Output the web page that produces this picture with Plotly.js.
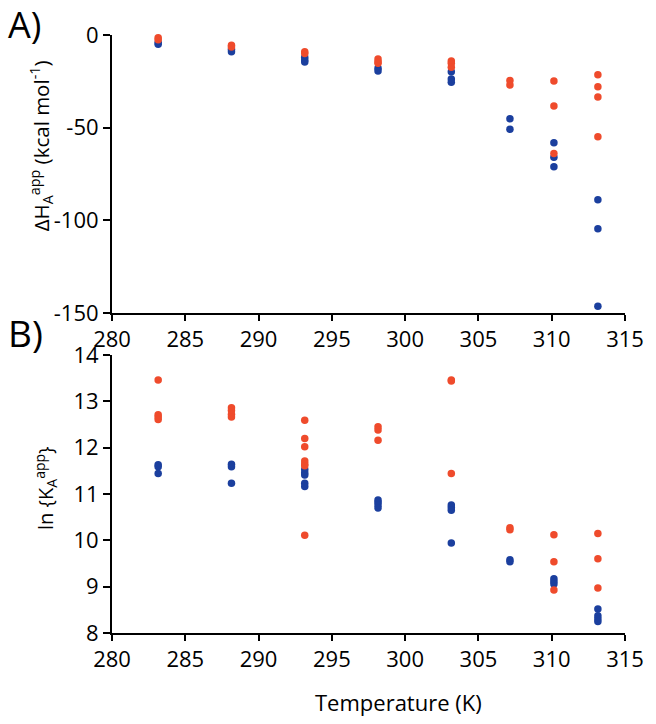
<!DOCTYPE html>
<html>
<head>
<meta charset="utf-8">
<script src="https://cdn.plot.ly/plotly-3.0.1.min.js"></script>
<style>
  html, body { margin: 0; padding: 0; background: #fff; }
  #chart { width: 656px; height: 724px; }
</style>
</head>
<body>
<div id="chart"></div>
<script>
// Temperatures (K)
const temps = [283.15, 288.15, 293.15, 298.15, 303.15, 307.15, 310.15, 313.15];

// Panel A: apparent enthalpy (kcal/mol), per temperature
const dH_red = [[-1.5, -2.5], [-5.5, -6.5], [-9, -10], [-13, -14.4, -15.3], [-14, -15.3, -17.4], [-24.6, -27], [-24.8, -38.3, -64], [-21.4, -27.9, -33.5, -54.9]];
const dH_blue = [[-4, -5], [-7.7, -9], [-12, -13.5, -14.6], [-18, -19.4], [-19.8, -23.7, -25.5], [-45.2, -50.9], [-58.1, -66, -71.1], [-88.9, -104.5, -146.4]];

// Panel B: ln K apparent, per temperature
const lnK_red = [[13.46, 12.71, 12.66, 12.61], [12.86, 12.8, 12.72, 12.66], [12.59, 12.2, 12.02, 11.71, 11.65, 11.61, 10.11], [12.45, 12.38, 12.16], [13.46, 13.44, 11.44], [10.27, 10.23], [10.12, 9.54, 8.93], [10.15, 9.6, 8.97]];
const lnK_blue = [[11.63, 11.59, 11.44], [11.64, 11.59, 11.23], [11.53, 11.46, 11.41, 11.23, 11.16], [10.87, 10.82, 10.76, 10.70], [10.76, 10.71, 10.65, 9.94], [9.58, 9.54], [9.17, 9.11, 9.06], [8.52, 8.37, 8.31, 8.25]];

// Tick labels
const xTicks = [280, 285, 290, 295, 300, 305, 310, 315];
const aTickVals = [0, -50, -100, -150];
const aTickText = ['0', '-50', '-100', '-150'];
const bTickVals = [8, 9, 10, 11, 12, 13, 14];

const RED = '#EF4B2C';
const BLUE = '#1B3F9E';

function flatten(groups) {
  const xs = [], ys = [];
  groups.forEach((g, i) => g.forEach(v => { xs.push(temps[i]); ys.push(v); }));
  return { x: xs, y: ys };
}

function trace(groups, color, xa, ya) {
  const d = flatten(groups);
  return {
    type: 'scatter', mode: 'markers', x: d.x, y: d.y,
    xaxis: xa, yaxis: ya, cliponaxis: false,
    marker: { color: color, size: 7.5, line: { width: 0 } },
    showlegend: false, hoverinfo: 'x+y'
  };
}

const data = [
  trace(dH_blue, BLUE, 'x', 'y'),
  trace(dH_red, RED, 'x', 'y'),
  trace(lnK_blue, BLUE, 'x2', 'y2'),
  trace(lnK_red, RED, 'x2', 'y2')
];

const FONT = 'Open Sans, Noto Sans, sans-serif';
const tickFont = { family: FONT, size: 22, color: '#000' };

const xCommon = {
  range: [280, 315], tickvals: xTicks, showline: true, linecolor: '#000', linewidth: 2,
  ticks: 'outside', ticklen: 6, tickwidth: 2, tickcolor: '#000',
  showgrid: false, zeroline: false, tickfont: tickFont, fixedrange: true
};
const yCommon = {
  showline: true, linecolor: '#000', linewidth: 2,
  ticks: 'outside', ticklen: 7, tickwidth: 2, tickcolor: '#000',
  showgrid: false, zeroline: false, tickfont: tickFont, fixedrange: true
};

const layout = {
  width: 656, height: 724,
  margin: { l: 112, r: 31, t: 35, b: 91 },
  paper_bgcolor: '#fff', plot_bgcolor: '#fff',
  font: { family: FONT, color: '#000' },
  xaxis: Object.assign({}, xCommon, { anchor: 'y', domain: [0, 1] }),
  yaxis: Object.assign({}, yCommon, { anchor: 'x', domain: [0.5351, 1], range: [-150, 0], tickvals: aTickVals, ticktext: aTickText }),
  xaxis2: Object.assign({}, xCommon, { anchor: 'y2', domain: [0, 1] }),
  yaxis2: Object.assign({}, yCommon, { anchor: 'x2', domain: [0, 0.4649], range: [8, 14], tickvals: bTickVals }),
  annotations: [
    { text: 'A)', xref: 'paper', yref: 'paper', x: -0.207, y: 1.017, xanchor: 'left', yanchor: 'middle', showarrow: false, font: { family: FONT, size: 36, color: '#000' } },
    { text: 'B)', xref: 'paper', yref: 'paper', x: -0.207, y: 0.503, xanchor: 'left', yanchor: 'middle', showarrow: false, font: { family: FONT, size: 37, color: '#000' } },
    { text: 'ΔH<sub>A</sub><sup>app</sup> (kcal mol<sup>-1</sup>)', xref: 'paper', yref: 'paper', x: -0.139, y: 0.815, xanchor: 'center', yanchor: 'middle', textangle: -90, showarrow: false, font: { family: FONT, size: 20.5, color: '#000' } },
    { text: 'ln {K<sub>A</sub><sup>app</sup>}', xref: 'paper', yref: 'paper', x: -0.130, y: 0.243, xanchor: 'center', yanchor: 'middle', textangle: -90, showarrow: false, font: { family: FONT, size: 20, color: '#000' } },
    { text: 'Temperature (K)', xref: 'paper', yref: 'paper', x: 0.558, y: -0.115, xanchor: 'center', yanchor: 'middle', showarrow: false, font: { family: FONT, size: 22, color: '#000' } }
  ]
};

Plotly.newPlot('chart', data, layout, { staticPlot: true, displayModeBar: false });
</script>
</body>
</html>
